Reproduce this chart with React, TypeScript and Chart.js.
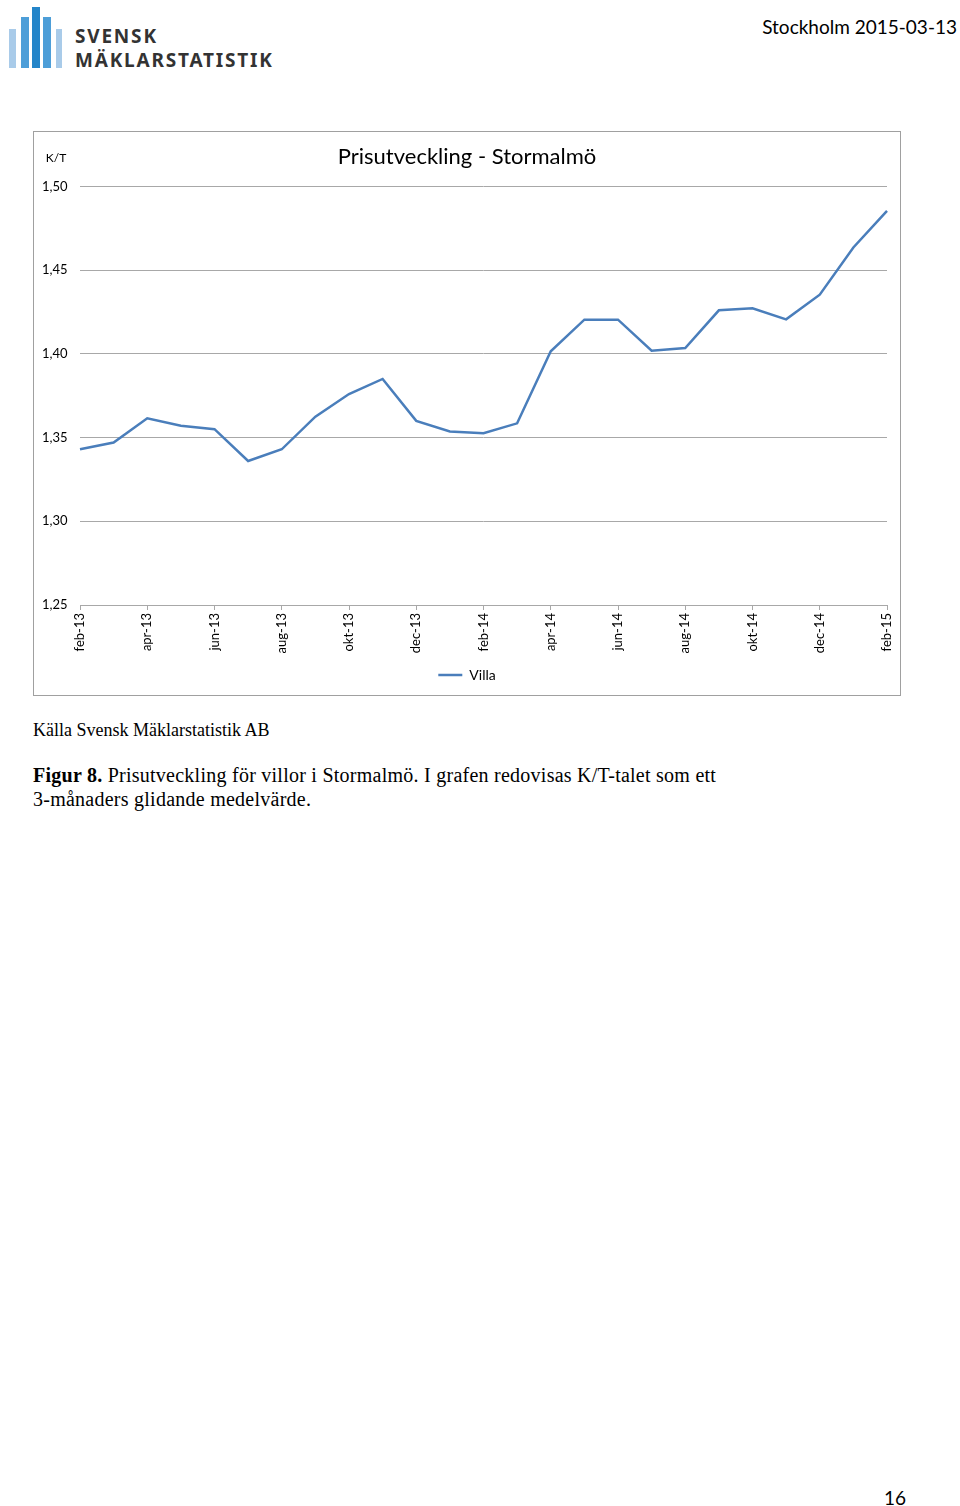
import React, { useEffect, useRef } from "react";
import { Chart, registerables } from "chart.js";

Chart.register(...registerables);

const months: string[] = [
  "feb-13", "mar-13", "apr-13", "maj-13", "jun-13", "jul-13", "aug-13", "sep-13",
  "okt-13", "nov-13", "dec-13", "jan-14", "feb-14", "mar-14", "apr-14", "maj-14",
  "jun-14", "jul-14", "aug-14", "sep-14", "okt-14", "nov-14", "dec-14", "jan-15", "feb-15",
];

const villaValues: number[] = [
  1.343, 1.347, 1.3615, 1.357, 1.355, 1.336, 1.343, 1.3625,
  1.376, 1.385, 1.36, 1.3536, 1.3526, 1.3585, 1.4015, 1.4204,
  1.4204, 1.4019, 1.4035, 1.426, 1.4272, 1.4206, 1.4353, 1.4635, 1.4854,
];

const seriesName = "Villa";
const chartTitle = "Prisutveckling - Stormalmö";
const yUnitLabel = "K/T";
const yMin = 1.25;
const yMax = 1.5;
const yStep = 0.05;

const FONT = "Lato, 'Open Sans', sans-serif";

const unitLabelPlugin = {
  id: "unitLabel",
  afterDraw(chart: any) {
    const ctx = chart.ctx;
    const area = chart.chartArea;
    ctx.save();
    ctx.font = `12px ${FONT}`;
    ctx.fillStyle = "#000";
    ctx.textAlign = "center";
    ctx.textBaseline = "middle";
    ctx.fillText(yUnitLabel, area.left - 24, area.top - 28);
    ctx.restore();
  },
};

function PriceChart() {
  const ref = useRef<HTMLCanvasElement | null>(null);
  useEffect(() => {
    if (!ref.current) return;
    const chart = new Chart(ref.current, {
      type: "line",
      data: {
        labels: months,
        datasets: [
          {
            label: seriesName,
            data: villaValues,
            borderColor: "#4A7EBB",
            backgroundColor: "#4A7EBB",
            borderWidth: 2.5,
            pointRadius: 0,
            tension: 0,
            fill: false,
          },
        ],
      },
      options: {
        animation: false,
        responsive: false,
        devicePixelRatio: 1,
        layout: { padding: { top: 0, right: 13, bottom: 3, left: 13 } },
        plugins: {
          title: {
            display: true,
            text: chartTitle,
            color: "#000",
            font: { family: FONT, size: 22, weight: "normal" },
            padding: { top: 12, bottom: 16 },
          },
          legend: {
            display: true,
            position: "bottom",
            labels: {
              usePointStyle: true,
              pointStyle: "line",
              pointStyleWidth: 24,
              boxHeight: 14,
              color: "#000",
              font: { family: FONT, size: 14 },
              padding: 8,
            },
          },
          tooltip: { enabled: false },
        },
        scales: {
          x: {
            type: "category",
            offset: false,
            grid: {
              drawOnChartArea: false,
              drawTicks: true,
              tickLength: 5,
              color: (c: any) => (c.index % 2 === 0 ? "#a8a8a8" : "rgba(0,0,0,0)"),
            },
            border: { display: true, color: "#a8a8a8" },
            ticks: {
              autoSkip: false,
              minRotation: 90,
              maxRotation: 90,
              padding: 3,
              color: "#000",
              font: { family: FONT, size: 13 },
              callback: (_v: any, i: number) => (i % 2 === 0 ? months[i] : ""),
            },
            afterFit: (s: any) => {
              s.height = 55;
              s.paddingLeft = 0;
              s.paddingRight = 0;
            },
          },
          y: {
            min: yMin,
            max: yMax,
            grid: { color: "#a8a8a8", drawTicks: false },
            border: { display: false },
            ticks: {
              stepSize: yStep,
              mirror: true,
              padding: -38,
              color: "#000",
              font: { family: FONT, size: 13 },
              callback: (v: any) => Number(v).toFixed(2).replace(".", ","),
            },
            afterFit: (s: any) => {
              s.width = 33;
            },
          },
        },
      },
      plugins: [unitLabelPlugin],
    });
    return () => chart.destroy();
  }, []);
  return (
    <canvas
      ref={ref}
      width={866}
      height={563}
      style={{ width: 866, height: 563, display: "block" }}
    />
  );
}

const barStyle = (left: number, top: number, w: number, color: string): React.CSSProperties => ({
  position: "absolute",
  left,
  top,
  width: w,
  height: 68 - top,
  background: color,
});

const logoText: React.CSSProperties = {
  position: "absolute",
  left: 75,
  fontFamily: "'Noto Sans', sans-serif",
  fontWeight: 700,
  fontSize: 19,
  letterSpacing: 1.8,
  lineHeight: "19px",
  color: "#333",
};

export default function App() {
  return (
    <div
      style={{
        position: "absolute",
        left: 0,
        top: 0,
        width: 960,
        height: 1506,
        overflow: "hidden",
        background: "#fff",
      }}
    >
      {/* Logo */}
      <div style={barStyle(9, 29, 7, "#a9cbe9")} />
      <div style={barStyle(21, 17, 8, "#4d9ed8")} />
      <div style={barStyle(32, 7, 8, "#2485c9")} />
      <div style={barStyle(43, 17, 8, "#4d9ed8")} />
      <div style={barStyle(56, 29, 6, "#a9cbe9")} />
      <div style={{ ...logoText, top: 27 }}>SVENSK</div>
      <div style={{ ...logoText, top: 51 }}>MÄKLARSTATISTIK</div>

      {/* Header date */}
      <div
        style={{
          position: "absolute",
          right: 3,
          top: 15,
          fontFamily: FONT,
          fontSize: 19,
          lineHeight: "24px",
          color: "#000",
        }}
      >
        Stockholm 2015-03-13
      </div>

      {/* Chart box */}
      <div
        style={{
          position: "absolute",
          left: 33,
          top: 131,
          width: 866,
          height: 563,
          border: "1px solid #a0a0a0",
        }}
      >
        <PriceChart />
      </div>

      {/* Source */}
      <div
        style={{
          position: "absolute",
          left: 33,
          top: 719,
          fontFamily: "'Liberation Serif', serif",
          fontSize: 18,
          lineHeight: "22px",
          color: "#000",
        }}
      >
        Källa Svensk Mäklarstatistik AB
      </div>

      {/* Caption */}
      <div
        style={{
          position: "absolute",
          left: 33,
          top: 763,
          fontFamily: "'Liberation Serif', serif",
          fontSize: 20,
          letterSpacing: 0.25,
          lineHeight: "24px",
          color: "#000",
          whiteSpace: "nowrap",
        }}
      >
        <b>Figur 8.</b> Prisutveckling för villor i Stormalmö. I grafen redovisas K/T-talet som ett
        <br />
        3-månaders glidande medelvärde.
      </div>

      {/* Page number */}
      <div
        style={{
          position: "absolute",
          left: 884,
          top: 1486,
          fontFamily: FONT,
          fontSize: 19,
          lineHeight: "24px",
          color: "#000",
        }}
      >
        16
      </div>
    </div>
  );
}
